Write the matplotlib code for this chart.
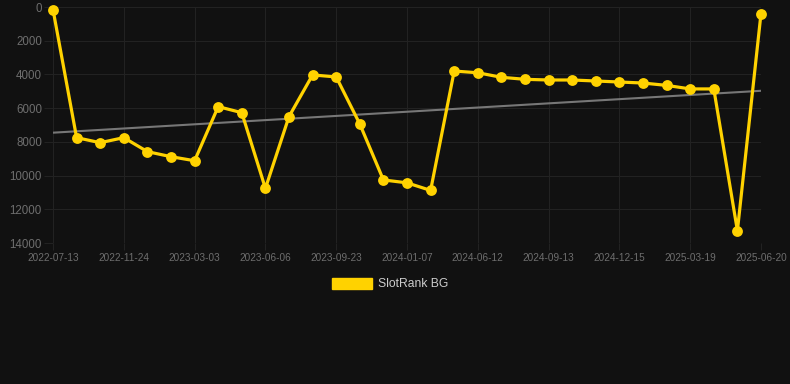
import numpy as np
import matplotlib.pyplot as plt
from matplotlib.patches import Patch

# ranking history (lower is better, axis is reversed)
dates = [
    "2022-07-13", "2022-08-26", "2022-10-10", "2022-11-24", "2022-12-26",
    "2023-01-29", "2023-03-03", "2023-04-04", "2023-05-06", "2023-06-06",
    "2023-07-12", "2023-08-17", "2023-09-23", "2023-11-06", "2023-12-20",
    "2024-01-07", "2024-03-02", "2024-04-22", "2024-06-12", "2024-07-13",
    "2024-08-13", "2024-09-13", "2024-10-14", "2024-11-14", "2024-12-15",
    "2025-01-15", "2025-02-16", "2025-03-19", "2025-04-19", "2025-05-20",
    "2025-06-20",
]
ranks = [
    150, 7750, 8050, 7750, 8580, 8880, 9120, 5910, 6270, 10760,
    6500, 4030, 4150, 6940, 10260, 10430, 10880, 3800, 3900, 4170,
    4290, 4330, 4330, 4390, 4450, 4510, 4650, 4860, 4860, 13270,
    390,
]
yticks = [0, 2000, 4000, 6000, 8000, 10000, 12000, 14000]
series_name = "SlotRank BG"

BG = "#111111"
GOLD = "#FFD200"
GRID = "#222222"
TXT = "#6e6e6e"

plt.rcParams["font.family"] = ["Liberation Sans", "DejaVu Sans"]

fig = plt.figure(figsize=(7.9, 3.84), dpi=100, facecolor=BG)
ax = fig.add_axes([53 / 790, 1 - 243 / 384, (761 - 53) / 790, 236 / 384])
ax.set_facecolor(BG)

x = np.arange(len(dates))

# trend line
coef = np.polyfit(x, ranks, 1)
ax.plot(x[[0, -1]], np.polyval(coef, x[[0, -1]]), color="#777777", lw=1.5, zorder=2)

ax.plot(x, ranks, color=GOLD, lw=2.3, marker="o", ms=7.8, mew=0,
        solid_joinstyle="miter", zorder=3, clip_on=False)

ax.set_xlim(0, len(dates) - 1)
ax.set_ylim(14000, 0)
ax.set_yticks(yticks)
ax.set_yticklabels([str(v) for v in yticks])
ax.set_xticks(x[::3])
ax.set_xticklabels([dates[i] for i in x[::3]])

ax.grid(True, color=GRID, lw=0.8)
ax.set_axisbelow(True)
for s in ax.spines.values():
    s.set_visible(False)
ax.tick_params(axis="y", colors=GRID, labelcolor=TXT, labelsize=8.3, length=6.5, width=0.8, pad=1.5)
ax.tick_params(axis="x", colors=GRID, labelcolor=TXT, labelsize=7.2, length=5, width=0.8, pad=2)

fig.legend(handles=[Patch(facecolor=GOLD, edgecolor=GOLD)], labels=[series_name],
           loc="center", bbox_to_anchor=(390 / 790, 1 - 284 / 384),
           frameon=False, fontsize=8.7, labelcolor="#cccccc",
           handlelength=3.3, handleheight=1.0, handletextpad=0.5)

fig.savefig("out.png", dpi=100, facecolor=BG)
